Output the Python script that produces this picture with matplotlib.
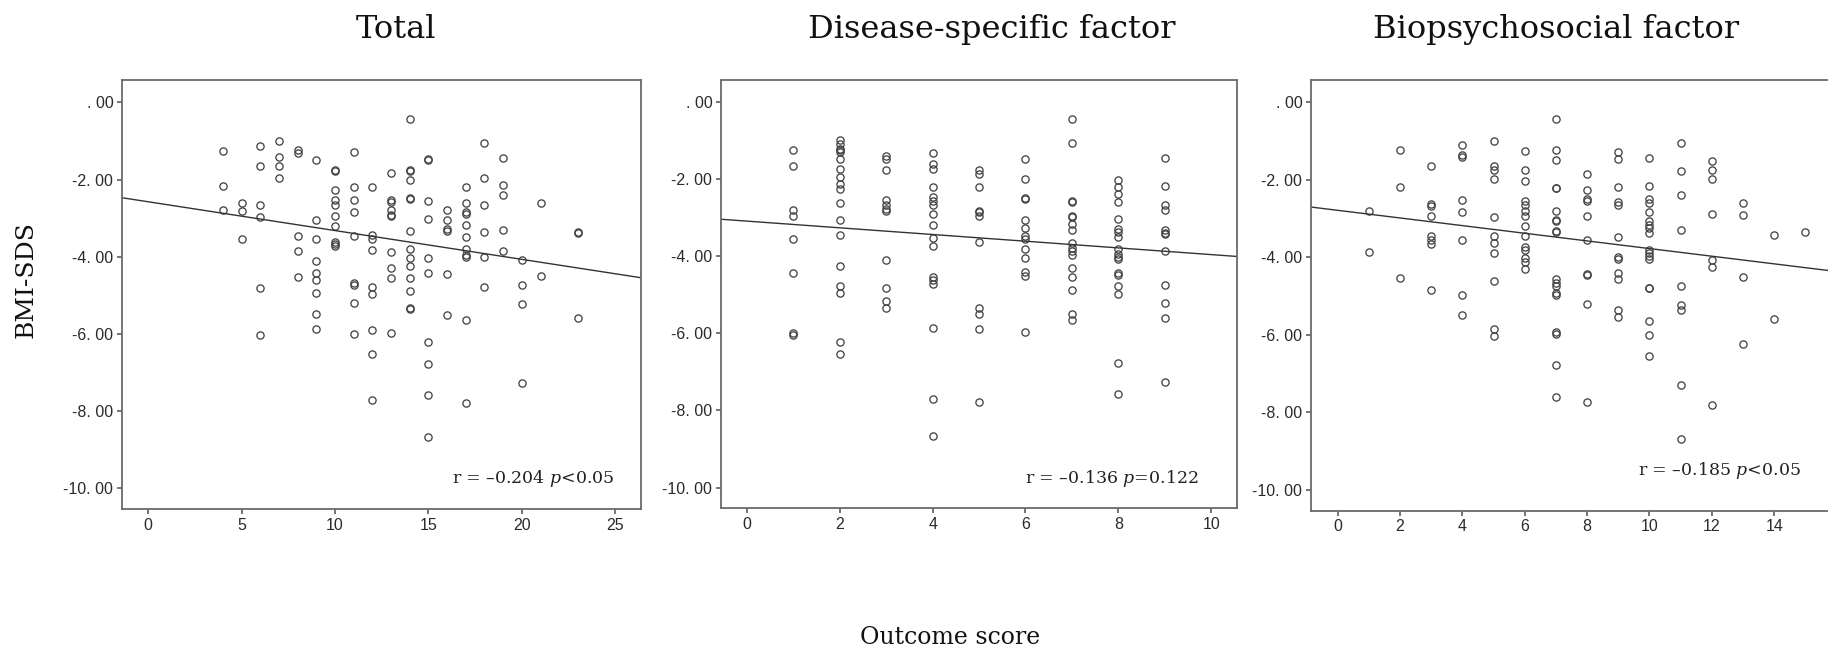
import numpy as np
import matplotlib
matplotlib.use("Agg")
import matplotlib.pyplot as plt

plt.rcParams['mathtext.fontset'] = 'dejavuserif'

# ---- data (BMI-SDS by outcome score) ----
total_scores = [4, 5, 6, 7, 8, 9, 10, 11, 12, 13, 14, 15, 16, 17, 18, 19, 20, 21, 23]
total_bmi = [
    [-1.25, -2.16, -2.79],
    [-2.61, -2.82, -3.55],
    [-1.12, -1.64, -2.67, -2.96, -4.82, -6.02],
    [-1.00, -1.41, -1.64, -1.97],
    [-1.24, -1.32, -3.45, -3.85, -4.52],
    [-1.48, -3.05, -3.55, -4.10, -4.42, -4.59, -4.95, -5.49, -5.87],
    [-1.74, -1.77, -2.28, -2.53, -2.66, -2.94, -3.20, -3.62, -3.66, -3.73],
    [-1.29, -2.20, -2.54, -2.84, -3.47, -4.67, -4.72, -5.19, -6.00],
    [-2.20, -3.43, -3.54, -3.82, -4.77, -4.97, -5.90, -6.53, -7.72],
    [-1.84, -2.54, -2.57, -2.80, -2.92, -2.95, -3.88, -4.30, -4.55, -5.97],
    [-0.43, -1.74, -1.77, -2.02, -2.47, -2.50, -3.32, -3.80, -4.03, -4.25, -4.55, -4.88, -5.33, -5.35],
    [-1.46, -1.50, -2.56, -3.03, -4.04, -4.41, -6.21, -6.77, -7.59, -8.67],
    [-2.79, -3.05, -3.27, -3.33, -4.45, -5.52],
    [-2.18, -2.60, -2.85, -2.90, -3.17, -3.48, -3.80, -3.96, -4.00, -5.64, -7.79],
    [-1.05, -1.97, -2.66, -3.36, -4.01, -4.78],
    [-1.43, -2.15, -2.39, -3.30, -3.86],
    [-4.07, -4.73, -5.21, -7.28],
    [-2.60, -4.50],
    [-3.35, -3.39, -5.59],
]

disease_scores = [1, 2, 3, 4, 5, 6, 7, 8, 9]
disease_bmi = [
    [-1.23, -1.65, -2.80, -2.95, -3.54, -4.42, -6.00, -6.03],
    [-0.99, -1.08, -1.21, -1.24, -1.28, -1.48, -1.73, -1.95, -2.12, -2.24, -2.62, -3.05, -3.45,
     -4.25, -4.77, -4.95, -6.21, -6.53],
    [-1.39, -1.47, -1.76, -2.54, -2.67, -2.76, -2.82, -4.10, -4.82, -5.17, -5.34],
    [-1.32, -1.61, -1.73, -2.20, -2.46, -2.55, -2.67, -2.90, -3.19, -3.52, -3.73, -4.54, -4.62,
     -4.72, -5.85, -7.71, -8.66],
    [-1.76, -1.86, -2.20, -2.82, -2.86, -2.94, -3.63, -5.34, -5.50, -5.89, -7.79],
    [-1.46, -1.98, -2.49, -2.52, -3.05, -3.26, -3.47, -3.56, -3.82, -4.04, -4.40, -4.50, -5.97],
    [-0.43, -1.05, -2.57, -2.60, -2.94, -2.97, -3.17, -3.32, -3.64, -3.78, -3.85, -3.97, -4.29,
     -4.54, -4.87, -5.50, -5.65],
    [-2.01, -2.19, -2.39, -2.59, -3.02, -3.30, -3.37, -3.50, -3.80, -3.93, -4.01, -4.07, -4.42,
     -4.48, -4.78, -4.97, -6.77, -7.58],
    [-1.44, -2.16, -2.67, -2.80, -3.31, -3.39, -3.43, -3.87, -4.73, -5.20, -5.59, -7.27],
]

bio_scores = [1, 2, 3, 4, 5, 6, 7, 8, 9, 10, 11, 12, 13, 14, 15]
bio_bmi = [
    [-2.79, -3.85],
    [-1.24, -2.17, -4.52],
    [-1.64, -2.61, -2.67, -2.94, -3.44, -3.54, -3.66, -4.83],
    [-1.11, -1.36, -1.42, -2.53, -2.82, -3.54, -4.98, -5.50],
    [-1.00, -1.64, -1.75, -1.98, -2.96, -3.46, -3.64, -3.88, -4.61, -5.86, -6.04],
    [-1.26, -1.74, -2.02, -2.55, -2.65, -2.79, -2.94, -3.20, -3.46, -3.74, -3.82, -4.02, -4.11, -4.31],
    [-0.43, -1.23, -1.49, -2.20, -2.22, -2.80, -3.03, -3.07, -3.31, -3.34, -4.55, -4.67, -4.73,
     -4.91, -4.97, -5.92, -5.97, -6.79, -7.61],
    [-1.85, -2.27, -2.50, -2.55, -2.94, -3.55, -4.43, -4.45, -5.21, -7.73],
    [-1.29, -1.46, -2.18, -2.57, -2.66, -3.48, -3.99, -4.03, -4.41, -4.56, -5.35, -5.54],
    [-1.43, -2.16, -2.48, -2.60, -2.82, -3.07, -3.16, -3.25, -3.36, -3.81, -3.89, -3.97, -4.04,
     -4.78, -4.79, -5.65, -6.01, -6.55],
    [-1.04, -1.76, -2.39, -3.30, -4.74, -5.22, -5.35, -7.29, -8.69],
    [-1.50, -1.74, -1.98, -2.87, -4.06, -4.26, -7.81],
    [-2.60, -2.90, -4.51, -6.23],
    [-3.41, -5.60],
    [-3.35],
]

titles = ["Total", "Disease-specific factor", "Biopsychosocial factor"]
# regression lines (intercept, slope) as drawn in the original
fit_lines = [(-2.574, -0.0746), (-3.084, -0.0869), (-2.784, -0.0988)]
stats_r = ["\u20130.204", "\u20130.136", "\u20130.185"]
stats_p = ["<0.05", "=0.122", "<0.05"]
x_ticks = [np.arange(0, 26, 5), np.arange(0, 11, 2), np.arange(0, 15, 2)]
x_limits = [(-1.4, 26.36), (-0.56, 10.55), (-0.85, 15.85)]
y_ticks = [0, -2, -4, -6, -8, -10]
y_ticklabels = [". 00", "-2. 00", "-4. 00", "-6. 00", "-8. 00", "-10. 00"]

W, H = 1828, 650
fig = plt.figure(figsize=(W / 100, H / 100), dpi=100)

# axes boxes in pixels: left, top, right, bottom
boxes = [(122, 80, 640.7, 509.3), (721, 80, 1236.7, 508.3), (1311, 80, 1832, 510.7)]
title_x = [396, 992, 1556]
text_pos = [(0.950, 0.061), (0.927, 0.059), (0.940, 0.083)]

groups = [(total_scores, total_bmi), (disease_scores, disease_bmi), (bio_scores, bio_bmi)]

spine_col = '#6a6a6a'
for i, (scores, bmi) in enumerate(groups):
    l, t, r, b = boxes[i]
    ax = fig.add_axes([l / W, 1 - b / H, (r - l) / W, (b - t) / H])
    xs = np.concatenate([[s] * len(v) for s, v in zip(scores, bmi)])
    ys = np.concatenate(bmi)
    ax.plot(xs, ys, 'o', ms=5.2, mfc='none', mec='#444444', mew=0.95)

    ax.set_xlim(*x_limits[i])
    ax.set_ylim(-10.54, 0.58)
    a, k = fit_lines[i]
    xl = np.array(x_limits[i])
    ax.plot(xl, a + k * xl, color='#333333', lw=1.0)

    ax.set_xticks(x_ticks[i])
    ax.set_yticks(y_ticks)
    ax.set_yticklabels(y_ticklabels)
    for sp in ax.spines.values():
        sp.set_color(spine_col)
        sp.set_linewidth(1.3)
    ax.tick_params(direction='out', length=3.8, width=1.1, color='#505050',
                   labelsize=11.5, labelcolor='#2a2a2a', pad=2.5)
    for lab in ax.get_xticklabels() + ax.get_yticklabels():
        lab.set_family(['Liberation Sans', 'DejaVu Sans'])

    ax.text(text_pos[i][0], text_pos[i][1],
            "r = " + stats_r[i] + r" $\mathit{p}$" + stats_p[i],
            transform=ax.transAxes, ha='right', va='baseline',
            fontsize=12.5, family='DejaVu Serif', color='#222222')

    fig.text(title_x[i] / W, 1 - 38 / H, titles[i], ha='center', va='baseline',
             fontsize=23, family='DejaVu Serif', color='#111111')

fig.text(26 / W, 1 - 280 / H, "BMI-SDS", rotation=90, ha='center', va='center',
         fontsize=18, family='DejaVu Serif', color='#111111')
fig.text(950 / W, 1 - 637 / H, "Outcome score", ha='center', va='center',
         fontsize=17, family='DejaVu Serif', color='#111111')

fig.savefig("out.png", dpi=100)
